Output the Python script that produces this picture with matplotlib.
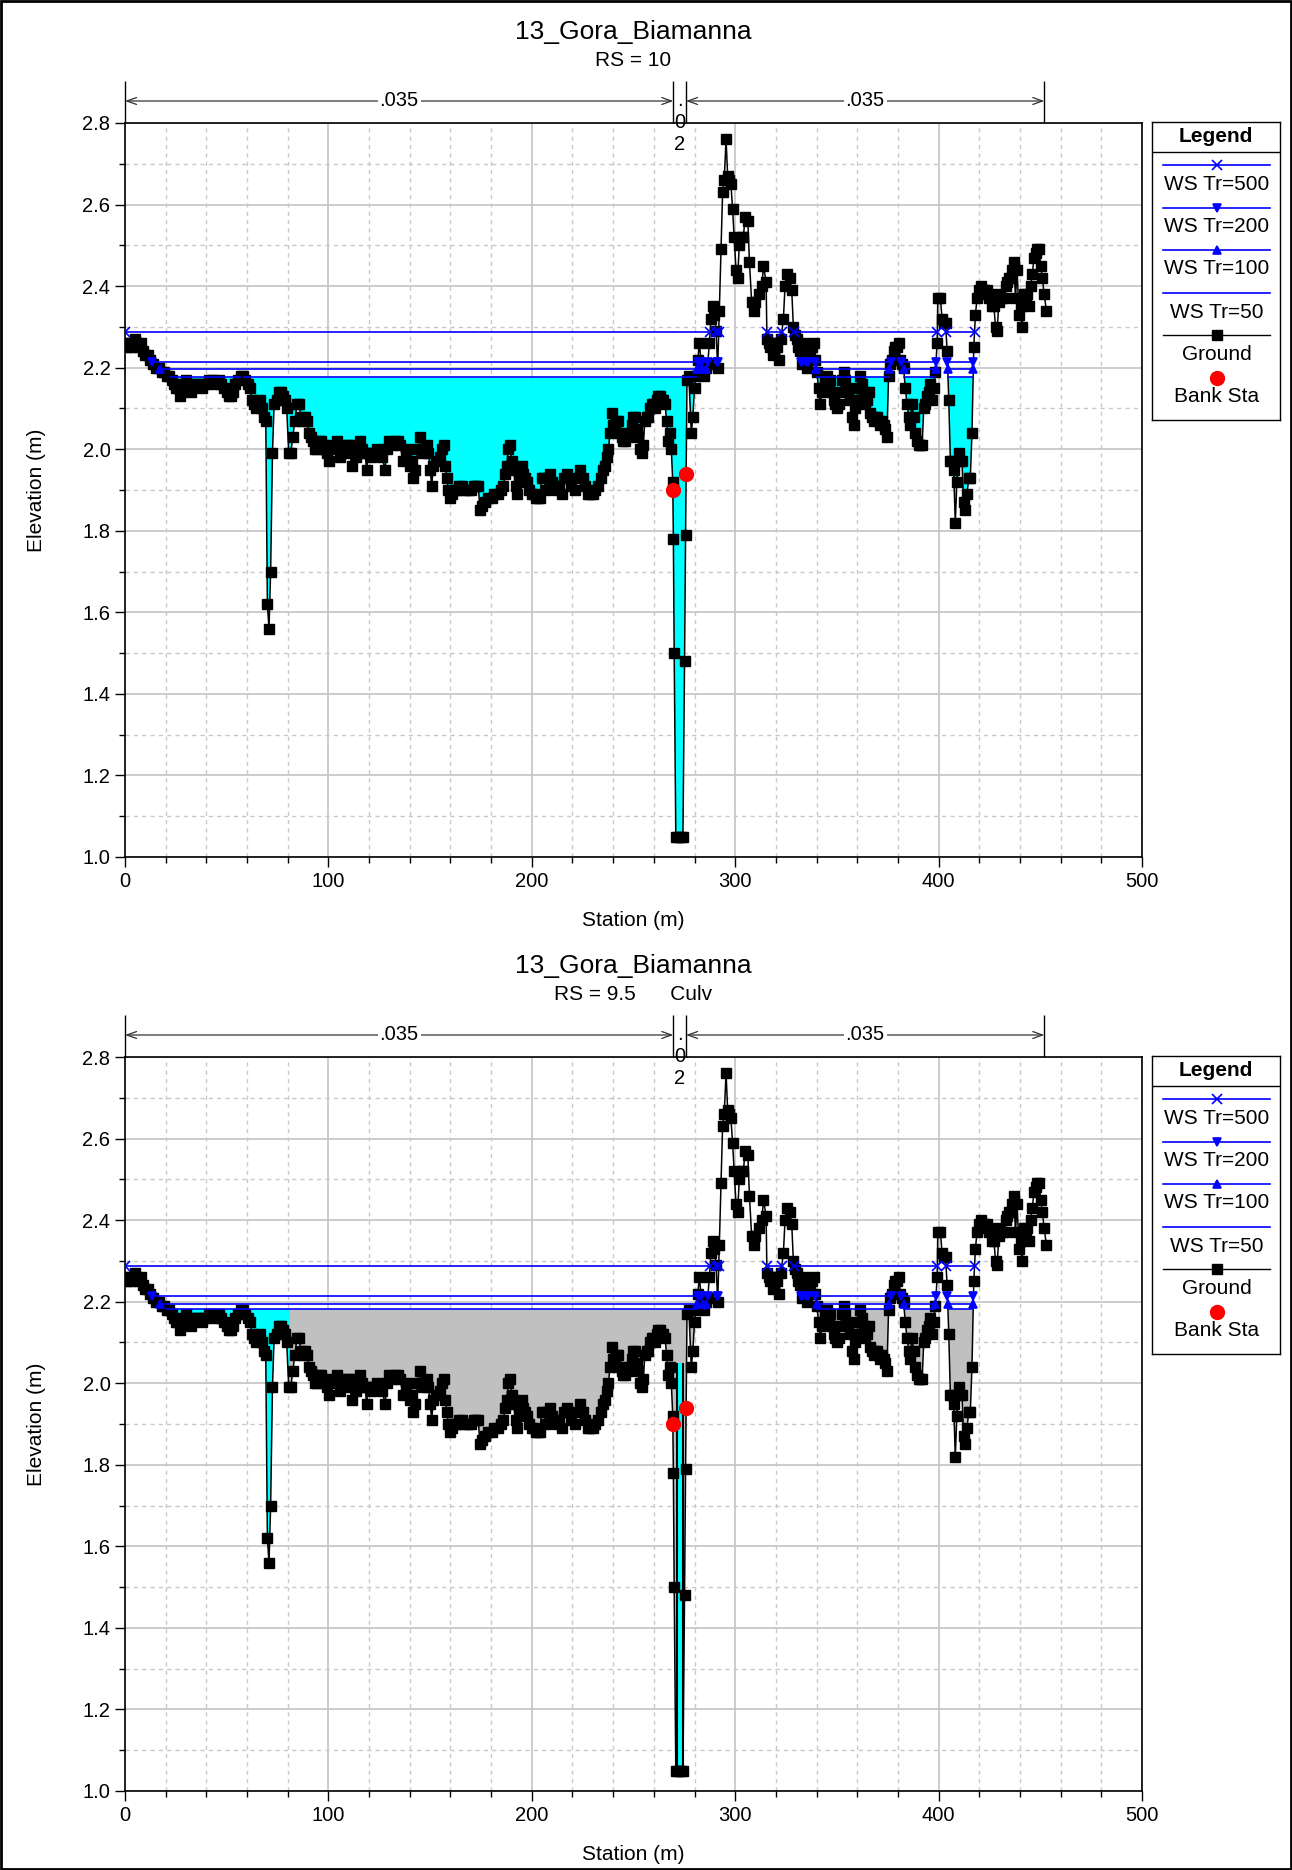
import numpy as np
import matplotlib
matplotlib.use('Agg')
import matplotlib.pyplot as plt
from matplotlib import transforms
from matplotlib.patches import Rectangle
from matplotlib.ticker import MultipleLocator, FormatStrFormatter

plt.rcParams['font.family'] = ['Liberation Sans', 'DejaVu Sans']

# ground survey, station (m) / elevation (m), rows of 10
station = [
    0.0, 1.0, 2.0, 3.0, 4.0, 5.0, 6.0, 7.0, 8.0, 9.0,
    10.0, 11.5, 12.5, 14.0, 15.0, 16.5, 18.0, 19.0, 20.5, 21.5,
    23.0, 24.0, 25.0, 26.0, 27.0, 28.0, 29.0, 30.0, 31.0, 32.5,
    33.5, 35.0, 36.5, 38.0, 39.0, 40.0, 41.5, 43.0, 44.5, 46.0,
    47.0, 48.5, 50.0, 51.0, 52.0, 53.0, 54.0, 55.5, 57.0, 58.0,
    59.0, 60.5, 61.5, 62.5, 63.5, 64.5, 65.5, 66.5, 67.5, 68.5,
    69.2, 70.0, 70.8, 71.6, 72.5, 73.3, 74.5, 75.5, 76.5, 77.5,
    78.5, 79.5, 80.5, 81.5, 82.5, 83.5, 84.5, 85.5, 86.5, 87.5,
    88.5, 89.5, 90.5, 91.5, 92.5, 93.5, 94.5, 95.5, 96.5, 97.5,
    98.5, 99.5, 100.5, 101.5, 102.5, 104.0, 105.5, 106.5, 108.0, 109.5,
    110.5, 111.5, 112.5, 113.5, 114.5, 115.5, 116.5, 118.0, 118.8, 119.6,
    121.0, 122.0, 123.0, 124.0, 125.4, 126.5, 127.8, 129.0, 130.0, 131.5,
    132.8, 134.0, 135.2, 136.8, 138.0, 139.3, 140.1, 141.0, 141.8, 142.6,
    144.0, 145.1, 146.0, 146.7, 148.3, 149.2, 150.0, 150.8, 151.6, 153.0,
    154.9, 156.0, 156.6, 157.5, 158.2, 159.0, 159.8, 161.0, 162.0, 163.1,
    164.0, 165.5, 167.0, 168.8, 170.0, 171.5, 172.5, 173.7, 174.5, 175.5,
    177.0, 178.5, 180.2, 181.5, 183.5, 185.0, 186.0, 187.0, 187.6, 188.5,
    189.3, 190.1, 191.0, 192.0, 192.5, 193.5, 195.0, 195.8, 196.5, 197.4,
    198.5, 199.9, 201.0, 202.0, 203.0, 204.0, 204.8, 205.7, 207.0, 208.0,
    208.9, 210.0, 211.4, 212.5, 213.5, 214.7, 216.0, 217.2, 218.0, 219.5,
    221.2, 222.5, 223.7, 225.0, 226.0, 227.5, 228.6, 230.0, 231.1, 232.7,
    234.0, 235.0, 236.0, 237.0, 237.7, 238.4, 239.3, 240.1, 240.9, 241.8,
    242.5, 243.3, 244.2, 245.0, 246.0, 247.4, 248.2, 249.1, 249.9, 250.8,
    251.5, 252.4, 253.2, 254.0, 254.8, 255.6, 256.5, 257.3, 258.1, 258.9,
    259.8, 260.6, 261.4, 262.2, 263.0, 263.8, 264.6, 265.5, 266.3, 267.1,
    267.9, 268.6, 269.3, 269.6, 270.0, 270.8, 272.0, 273.2, 274.3, 275.1,
    275.6, 276.3, 277.2, 278.4, 279.2, 280.0, 280.8, 281.6, 282.4, 283.3,
    284.1, 284.9, 285.7, 286.5, 287.3, 288.1, 288.9, 289.8, 290.6, 291.4,
    292.2, 293.0, 293.8, 294.6, 295.5, 296.3, 297.1, 297.9, 298.7, 299.5,
    300.4, 301.2, 302.0, 303.2, 304.0, 304.9, 306.2, 307.0, 308.1, 309.0,
    309.8, 311.5, 313.1, 313.9, 315.2, 315.6, 316.4, 317.2, 318.0, 318.8,
    319.6, 320.4, 321.7, 322.5, 323.7, 324.5, 325.7, 326.7, 327.8, 328.6,
    329.4, 330.3, 330.8, 331.9, 332.7, 333.6, 334.4, 335.2, 336.0, 336.9,
    337.7, 338.5, 339.3, 340.1, 341.0, 341.8, 342.6, 343.5, 344.3, 345.1,
    345.9, 346.7, 347.6, 348.4, 349.2, 350.0, 350.8, 351.6, 352.5, 353.3,
    354.1, 354.9, 355.7, 356.6, 357.4, 358.2, 359.0, 359.8, 360.6, 361.5,
    362.3, 363.1, 363.9, 364.8, 365.6, 366.4, 367.2, 368.0, 368.9, 369.7,
    370.5, 371.3, 372.1, 373.0, 373.8, 374.6, 375.4, 376.2, 377.0, 377.9,
    378.7, 379.5, 380.3, 381.2, 382.0, 382.8, 383.6, 384.5, 385.3, 386.1,
    386.9, 387.7, 388.6, 389.4, 390.2, 391.1, 391.9, 392.7, 393.5, 394.3,
    395.2, 396.0, 396.8, 397.6, 398.4, 399.3, 399.6, 400.9, 401.7, 402.5,
    403.4, 404.2, 405.0, 405.8, 406.6, 407.4, 408.2, 409.0, 409.9, 410.7,
    411.5, 412.3, 413.2, 414.0, 414.8, 415.6, 416.4, 417.3, 418.1, 418.9,
    419.7, 420.6, 421.4, 422.2, 423.1, 423.9, 424.7, 425.5, 426.4, 427.2,
    428.0, 428.8, 429.6, 430.4, 431.3, 432.1, 432.9, 433.7, 434.5, 435.4,
    436.2, 437.0, 437.8, 438.6, 439.5, 440.3, 441.1, 441.9, 442.8, 443.6,
    444.4, 445.2, 446.1, 446.9, 447.7, 448.5, 449.4, 450.2, 451.0, 451.9,
    453.0,
]
elevation = [
    2.26, 2.25, 2.26, 2.25, 2.26, 2.27, 2.26, 2.25, 2.26, 2.24,
    2.23, 2.23, 2.22, 2.21, 2.20, 2.20, 2.19, 2.19, 2.18, 2.18,
    2.17, 2.16, 2.15, 2.15, 2.13, 2.15, 2.16, 2.17, 2.15, 2.14,
    2.16, 2.16, 2.16, 2.15, 2.16, 2.16, 2.17, 2.17, 2.16, 2.17,
    2.16, 2.15, 2.14, 2.13, 2.13, 2.14, 2.16, 2.17, 2.18, 2.18,
    2.17, 2.16, 2.15, 2.12, 2.11, 2.10, 2.11, 2.12, 2.10, 2.08,
    2.07, 1.62, 1.56, 1.70, 1.99, 2.11, 2.12, 2.14, 2.14, 2.13,
    2.12, 2.10, 1.99, 1.99, 2.03, 2.07, 2.11, 2.11, 2.08, 2.07,
    2.08, 2.07, 2.04, 2.03, 2.02, 2.00, 2.00, 2.02, 2.02, 2.01,
    2.00, 1.99, 1.97, 2.01, 2.00, 2.02, 1.98, 2.00, 2.01, 2.01,
    1.99, 1.96, 2.01, 1.98, 1.99, 2.02, 2.00, 1.99, 1.95, 1.99,
    1.98, 1.99, 1.99, 2.00, 1.99, 1.98, 1.95, 2.00, 2.02, 2.01,
    2.02, 2.02, 2.01, 1.97, 1.99, 2.00, 1.96, 1.97, 1.93, 1.95,
    2.00, 2.03, 2.00, 1.99, 2.01, 1.99, 1.95, 1.91, 1.96, 1.97,
    1.98, 2.00, 2.01, 1.96, 1.93, 1.90, 1.88, 1.89, 1.90, 1.90,
    1.91, 1.91, 1.90, 1.90, 1.90, 1.91, 1.91, 1.91, 1.85, 1.86,
    1.87, 1.88, 1.88, 1.89, 1.89, 1.90, 1.91, 1.94, 1.96, 2.00,
    2.01, 1.97, 1.95, 1.91, 1.89, 1.93, 1.96, 1.94, 1.93, 1.92,
    1.90, 1.89, 1.89, 1.88, 1.88, 1.88, 1.93, 1.93, 1.90, 1.93,
    1.94, 1.92, 1.91, 1.90, 1.91, 1.89, 1.93, 1.94, 1.93, 1.91,
    1.90, 1.93, 1.95, 1.93, 1.91, 1.89, 1.89, 1.89, 1.90, 1.91,
    1.93, 1.95, 1.96, 1.98, 2.00, 2.04, 2.09, 2.06, 2.06, 2.07,
    2.07, 2.04, 2.03, 2.02, 2.02, 2.03, 2.04, 2.06, 2.08, 2.08,
    2.05, 2.03, 2.00, 1.99, 2.01, 2.07, 2.08, 2.08, 2.10, 2.11,
    2.11, 2.10, 2.12, 2.13, 2.13, 2.12, 2.12, 2.11, 2.07, 2.02,
    2.04, 2.00, 1.92, 1.78, 1.50, 1.05, 1.05, 1.05, 1.05, 1.48,
    1.79, 2.17, 2.18, 2.04, 2.08, 2.15, 2.18, 2.22, 2.26, 2.21,
    2.19, 2.18, 2.20, 2.21, 2.26, 2.32, 2.35, 2.33, 2.29, 2.20,
    2.34, 2.49, 2.63, 2.66, 2.76, 2.67, 2.66, 2.65, 2.59, 2.52,
    2.44, 2.42, 2.50, 2.52, 2.52, 2.57, 2.56, 2.46, 2.36, 2.34,
    2.36, 2.38, 2.40, 2.45, 2.41, 2.27, 2.26, 2.25, 2.26, 2.23,
    2.26, 2.25, 2.22, 2.27, 2.32, 2.40, 2.43, 2.42, 2.39, 2.30,
    2.28, 2.27, 2.25, 2.24, 2.21, 2.26, 2.24, 2.20, 2.23, 2.24,
    2.25, 2.26, 2.22, 2.19, 2.15, 2.11, 2.14, 2.15, 2.17, 2.18,
    2.15, 2.17, 2.14, 2.12, 2.11, 2.10, 2.11, 2.14, 2.17, 2.19,
    2.17, 2.15, 2.14, 2.12, 2.08, 2.06, 2.10, 2.12, 2.15, 2.18,
    2.16, 2.14, 2.11, 2.12, 2.14, 2.09, 2.08, 2.07, 2.08, 2.08,
    2.07, 2.06, 2.07, 2.06, 2.05, 2.03, 2.18, 2.21, 2.22, 2.24,
    2.25, 2.25, 2.26, 2.22, 2.21, 2.20, 2.15, 2.11, 2.08, 2.06,
    2.11, 2.08, 2.04, 2.02, 2.01, 2.01, 2.01, 2.10, 2.11, 2.13,
    2.14, 2.16, 2.12, 2.15, 2.19, 2.26, 2.37, 2.37, 2.32, 2.31,
    2.31, 2.24, 2.12, 1.97, 1.97, 1.95, 1.82, 1.92, 1.99, 1.97,
    1.97, 1.87, 1.85, 1.89, 1.93, 1.93, 2.04, 2.25, 2.33, 2.37,
    2.39, 2.40, 2.39, 2.39, 2.38, 2.39, 2.37, 2.38, 2.35, 2.35,
    2.30, 2.29, 2.36, 2.38, 2.37, 2.37, 2.40, 2.41, 2.42, 2.42,
    2.44, 2.46, 2.37, 2.44, 2.33, 2.35, 2.30, 2.38, 2.37, 2.38,
    2.35, 2.40, 2.43, 2.47, 2.48, 2.49, 2.49, 2.45, 2.42, 2.38,
    2.34,
]

bank_sta = [269.6, 275.8]
bank_elev = [1.90, 1.94]

n_breaks = [0.0, 269.6, 275.8, 452.0]
n_values = ['.035', '.02', '.035']

profiles = ['WS Tr=500', 'WS Tr=200', 'WS Tr=100', 'WS Tr=50']
ws_rs10 = [2.287, 2.215, 2.196, 2.176]
ws_rs95 = [2.287, 2.215, 2.194, 2.181]

# culvert section (RS 9.5)
culv_left, culv_right = 271.6, 274.2
culv_invert, culv_top = 1.05, 2.05
deck_start = 81.0

W, H = 1292, 1870
fig = plt.figure(figsize=(W / 100, H / 100), dpi=100)

ws_marker = ['x', 'v', '^', None]
ws_ms = [7, 6, 6, 0]
BLUE = '#0000ff'
GROUND_MS = 7


def wet_segments(x, z, ws):
    wet = z < ws
    segs = []
    n = len(x)
    i = 0
    while i < n:
        if not wet[i]:
            i += 1
            continue
        j = i
        while j + 1 < n and wet[j + 1]:
            j += 1
        if i == 0:
            x0 = x[0]
        else:
            x0 = x[i - 1] + (ws - z[i - 1]) * (x[i] - x[i - 1]) / (z[i] - z[i - 1])
        if j == n - 1:
            x1 = x[-1]
        else:
            x1 = x[j] + (ws - z[j]) * (x[j + 1] - x[j]) / (z[j + 1] - z[j])
        segs.append((x0, x1))
        i = j + 1
    return segs


def draw_panel(top_px, ws_levels, rs_text, culvert):
    ax_h = 734
    ax = fig.add_axes([125 / W, 1 - (top_px + ax_h) / H, 1017 / W, ax_h / H])
    x = np.array(station)
    z = np.array(elevation)
    ws50 = ws_levels[3]

    if culvert:
        ax.fill_between(x, z, ws50, where=z < ws50, interpolate=True,
                        color='#c0c0c0', lw=0, zorder=2)
        cy = ax.fill_between(x, z, ws50, where=z < ws50, interpolate=True,
                             color='#00ffff', lw=0, zorder=2.1)
        cy.set_clip_path(Rectangle((-10, 0), deck_start + 10, 5, transform=ax.transData))
        ax.fill_between([culv_left, culv_right], culv_invert, culv_top,
                        color='#00ffff', lw=0, zorder=2.2)
        ax.vlines([culv_left, culv_right], culv_invert, culv_top, colors='k',
                  lw=1.5, zorder=3)
    else:
        ax.fill_between(x, z, ws50, where=z < ws50, interpolate=True,
                        color='#00ffff', lw=0, zorder=2)

    ax.plot(x, z, color='k', lw=1.1, marker='s', ms=GROUND_MS, zorder=4)

    for lvl, m, ms in zip(ws_levels, ws_marker, ws_ms):
        for x0, x1 in wet_segments(x, z, lvl):
            ax.plot([x0, x1], [lvl, lvl], color=BLUE, lw=1.2, zorder=5,
                    marker=m, ms=ms, mec=BLUE, mfc=BLUE, mew=1.2)

    ax.plot(bank_sta, bank_elev, 'o', color='red', ms=10, zorder=6)

    ax.set_xlim(0, 500)
    ax.set_ylim(1.0, 2.8)
    ax.xaxis.set_major_locator(MultipleLocator(100))
    ax.xaxis.set_minor_locator(MultipleLocator(20))
    ax.yaxis.set_major_locator(MultipleLocator(0.2))
    ax.yaxis.set_minor_locator(MultipleLocator(0.1))
    ax.yaxis.set_major_formatter(FormatStrFormatter('%.1f'))
    ax.set_axisbelow(True)
    ax.grid(which='major', color='#c8c8c8', lw=1.3, ls='-')
    ax.grid(which='minor', color='#c8c8c8', lw=1.0, ls=(0, (3, 3)))
    ax.tick_params(which='major', direction='out', length=7, width=1, labelsize=14.5)
    ax.tick_params(which='minor', direction='out', length=4, width=1)
    for s in ax.spines.values():
        s.set_linewidth(1.2)

    ax.set_xlabel('Station (m)', fontsize=15)
    ax.set_ylabel('Elevation (m)', fontsize=15)
    ax.yaxis.set_label_coords((46 - 125) / 1017, 0.5)
    ax.xaxis.set_label_coords(0.5, -(911 - 857) / 734)

    # Manning's n bar above plot
    trans = transforms.blended_transform_factory(ax.transData, ax.transAxes)
    ya = 1 + 22 / ax_h
    ytop = 1 + 42 / ax_h
    ax.vlines(n_breaks, 1.0, ytop, transform=trans, colors='k', lw=1, clip_on=False)
    for i, nv in enumerate(n_values):
        x0, x1 = n_breaks[i], n_breaks[i + 1]
        xm = (x0 + x1) / 2
        if x1 - x0 > 30:
            ax.annotate('', xy=(x1, ya), xytext=(x0, ya), xycoords=trans,
                        textcoords=trans, annotation_clip=False,
                        arrowprops=dict(arrowstyle='<->,head_length=0.7,head_width=0.25',
                                        lw=0.9, color='#333333', shrinkA=0, shrinkB=0))
            ax.text(xm, ya, nv, transform=trans, ha='center', va='center',
                    fontsize=14.5, clip_on=False,
                    bbox=dict(fc='white', ec='none', pad=1.5))
        else:
            # narrow panel: characters stacked one per line
            for k, ch in enumerate(nv):
                ax.text(xm, ya - k * 21.5 / ax_h, ch, transform=trans,
                        ha='center', va='center', fontsize=14.5,
                        clip_on=False, zorder=6)

    cx = (125 + 1142) / 2 / W
    fig.text(cx, 1 - (top_px - 91) / H, '13_Gora_Biamanna', ha='center',
             va='center', fontsize=19)
    fig.text(cx, 1 - (top_px - 62) / H, rs_text, ha='center', va='center',
             fontsize=15)
    return ax


def draw_legend(top_px):
    hgt = 298
    lax = fig.add_axes([1152 / W, 1 - (top_px + hgt) / H, 128 / W, hgt / H])
    lax.set_xlim(0, 128)
    lax.set_ylim(hgt, 0)
    lax.set_xticks([])
    lax.set_yticks([])
    for s in lax.spines.values():
        s.set_linewidth(1.0)
    lax.text(64, 14, 'Legend', ha='center', va='center', fontsize=15,
             fontweight='bold')
    lax.axhline(30, color='k', lw=1)
    rows_line = [43, 86, 128, 171]
    rows_txt = [63, 104, 147, 190]
    for name, m, ms, yl, yt in zip(profiles, ws_marker, ws_ms, rows_line, rows_txt):
        lax.plot([11, 118], [yl, yl], color=BLUE, lw=1.2)
        if m:
            lax.plot([64.5], [yl], marker=m, ms=ms, color=BLUE, mew=1.2)
        lax.text(64.5, yt, name, ha='center', va='center', fontsize=15)
    lax.plot([11, 118], [213, 213], color='k', lw=1.0)
    lax.plot([64.5], [213], marker='s', ms=GROUND_MS, color='k')
    lax.text(64.5, 232, 'Ground', ha='center', va='center', fontsize=15)
    lax.plot([64.5], [256], 'o', color='red', ms=10)
    lax.text(64.5, 275, 'Bank Sta', ha='center', va='center', fontsize=15)


draw_panel(123, ws_rs10, 'RS = 10', False)
draw_legend(122)
draw_panel(1057, ws_rs95, 'RS = 9.5      Culv', True)
draw_legend(1056)

fig.patches.append(Rectangle((1 / W, 1 / H), 1 - 2 / W, 1 - 2 / H,
                             transform=fig.transFigure, fill=False,
                             ec='k', lw=2))

fig.savefig('out.png', dpi=100)
